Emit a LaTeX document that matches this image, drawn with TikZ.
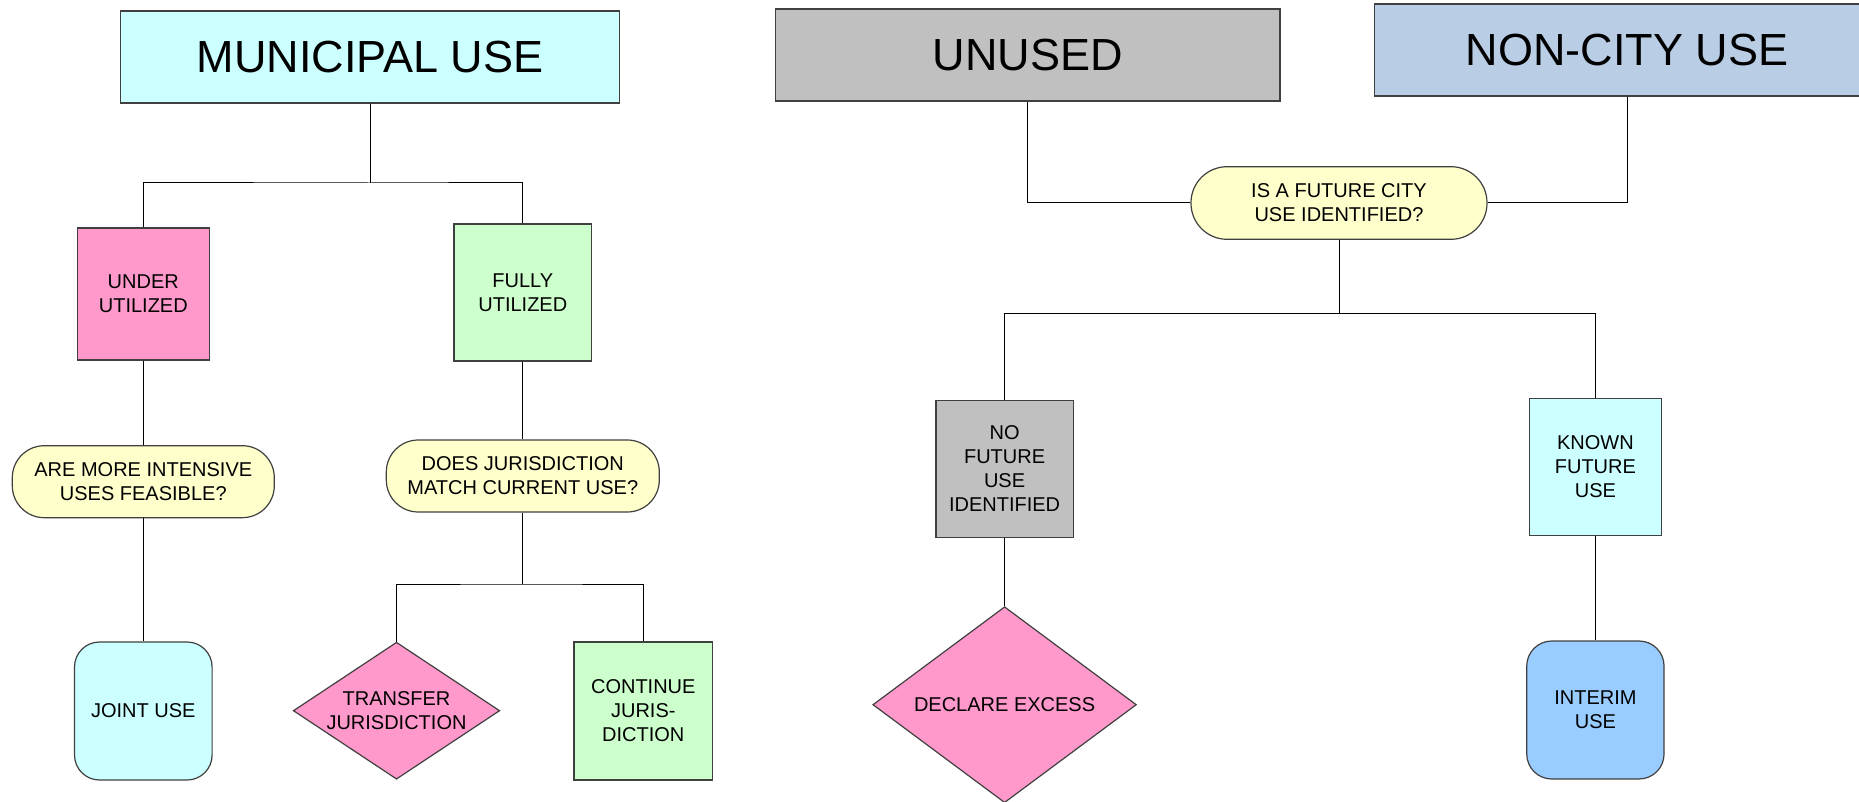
\documentclass[tikz,border=0pt]{standalone}
\usepackage{fontspec}
\setmainfont{Liberation Sans}
\usetikzlibrary{shapes.geometric}

\definecolor{paleCyan}{HTML}{CCFFFF}
\definecolor{palePink}{HTML}{FF99CC}
\definecolor{paleGreen}{HTML}{CCFFCC}
\definecolor{paleYellow}{HTML}{FFFFCC}
\definecolor{midGray}{HTML}{C0C0C0}
\definecolor{steelBlue}{HTML}{B9CDE5}
\definecolor{skyBlue}{HTML}{99CCFF}

\begin{document}
\begin{tikzpicture}[x=0.5pt, y=-0.5pt, line width=0.5pt,
        every node/.style={font=\fontsize{10}{12}\selectfont, align=center,
            inner sep=0pt, draw=black!75, line width=0.6pt},
        head/.style={rectangle, font=\fontsize{22.5}{27}\selectfont,
            minimum height=46pt},
        box/.style={rectangle},
        query/.style={rectangle, rounded corners=16pt, fill=paleYellow,
            minimum height=36pt},
        ending/.style={rectangle, rounded corners=12.5pt},
        choice/.style={diamond, fill=palePink}
    ]
        \clip (0,0) rectangle (1859,802);

        % municipal side
        \node[head, fill=paleCyan, minimum width=249.5pt] (muni) at (370,57) {MUNICIPAL USE};
        \node[box, fill=palePink, minimum width=66pt, minimum height=66pt] (under) at (143.3,294) {UNDER\\UTILIZED};
        \node[box, fill=paleGreen, minimum width=68.75pt, minimum height=68.5pt] (fully) at (522.8,292.5) {FULLY\\UTILIZED};
        \node[query, minimum width=131pt] (intens) at (143.3,481.7) {ARE MORE INTENSIVE\\USES FEASIBLE?};
        \node[query, minimum width=136.5pt] (juris) at (522.8,476) {DOES JURISDICTION\\MATCH CURRENT USE?};
        \node[ending, fill=paleCyan, minimum width=68.8pt, minimum height=69pt] (joint) at (143.3,711) {JOINT USE};
        \node[choice, aspect=1.5, minimum width=103.25pt, minimum height=68.5pt] (transfer) at (396.5,710.7) {TRANSFER\\JURISDICTION};
        \node[box, fill=paleGreen, minimum width=69.25pt, minimum height=69pt] (cont) at (643.3,711) {CONTINUE\\JURIS-\\DICTION};

        \coordinate (mj) at (370,183);
        \coordinate (jj) at (522.8,584);
        \draw (muni) -- (mj);
        \draw (under) |- (mj) -| (fully);
        \draw (under) -- (intens);
        \draw (intens) -- (joint);
        \draw (fully) -- (juris);
        \draw (juris) -- (jj);
        \draw (transfer) |- (jj) -| (cont);

        % unused and non-city side
        \node[head, fill=midGray, minimum width=252.3pt] (unused) at (1027.7,55) {UNUSED};
        \node[head, fill=steelBlue, minimum width=252.5pt] (noncity) at (1627,50) {NON-CITY USE};
        \node[query, rounded corners=18pt, minimum width=148pt, minimum height=36.3pt] (future) at (1339,203) {IS A FUTURE CITY\\USE IDENTIFIED?};
        \node[box, fill=midGray, minimum width=68.65pt, minimum height=68.85pt] (nofut) at (1004.6,469) {NO\\FUTURE\\USE\\IDENTIFIED};
        \node[box, fill=paleCyan, minimum width=65.85pt, minimum height=68.85pt] (known) at (1595.4,467) {KNOWN\\FUTURE\\USE};
        \node[choice, aspect=1.35, minimum width=131.8pt, minimum height=98pt] (excess) at (1004.6,704.7) {DECLARE EXCESS};
        \node[ending, fill=skyBlue, minimum width=68.65pt, minimum height=69pt] (interim) at (1595.4,710) {INTERIM\\USE};

        \coordinate (fj) at (1339,313.7);
        \draw (unused) |- (future);
        \draw (noncity) |- (future);
        \draw (future) -- (fj);
        \draw (nofut) |- (fj) -| (known);
        \draw (nofut) -- (excess);
        \draw (known) -- (interim);
\end{tikzpicture}
\end{document}
